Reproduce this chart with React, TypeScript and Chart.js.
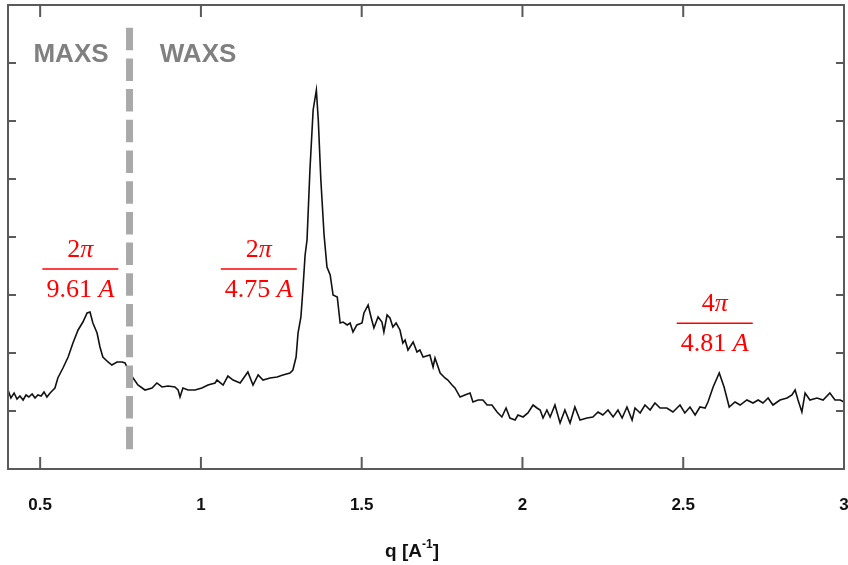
import React, { useEffect, useRef } from "react";
import { Chart, registerables } from "chart.js";

Chart.register(...registerables);

// scattering vector q [A^-1]
const qValues = [
  0.400, 0.409, 0.419, 0.428, 0.437, 0.447, 0.456, 0.465, 0.475, 0.484,
  0.493, 0.503, 0.512, 0.521, 0.531, 0.540, 0.546, 0.555, 0.571, 0.587,
  0.602, 0.618, 0.633, 0.646, 0.655, 0.664, 0.677, 0.686, 0.695, 0.711,
  0.723, 0.739, 0.755, 0.764, 0.779, 0.789, 0.804, 0.826, 0.848, 0.863,
  0.879, 0.898, 0.919, 0.929, 0.935, 0.944, 0.960, 0.982, 1.003, 1.022,
  1.044, 1.050, 1.069, 1.084, 1.100, 1.122, 1.146, 1.162, 1.178, 1.193,
  1.215, 1.237, 1.255, 1.277, 1.286, 1.296, 1.302, 1.311, 1.317, 1.324,
  1.330, 1.339, 1.349, 1.359, 1.365, 1.373, 1.383, 1.392, 1.402, 1.411,
  1.424, 1.433, 1.442, 1.455, 1.464, 1.473, 1.485, 1.501, 1.507, 1.520,
  1.529, 1.538, 1.551, 1.563, 1.569, 1.579, 1.588, 1.597, 1.607, 1.619,
  1.628, 1.635, 1.644, 1.660, 1.672, 1.681, 1.691, 1.712, 1.722, 1.728,
  1.744, 1.759, 1.768, 1.781, 1.790, 1.806, 1.821, 1.837, 1.846, 1.862,
  1.877, 1.890, 1.905, 1.921, 1.936, 1.949, 1.961, 1.977, 1.986, 2.002,
  2.017, 2.033, 2.045, 2.055, 2.064, 2.076, 2.086, 2.101, 2.117, 2.132,
  2.148, 2.163, 2.179, 2.201, 2.219, 2.235, 2.250, 2.266, 2.282, 2.297,
  2.310, 2.325, 2.341, 2.350, 2.366, 2.381, 2.397, 2.412, 2.428, 2.449,
  2.468, 2.490, 2.505, 2.521, 2.537, 2.552, 2.568, 2.577, 2.593, 2.612,
  2.627, 2.643, 2.661, 2.677, 2.698, 2.717, 2.733, 2.748, 2.764, 2.779,
  2.801, 2.823, 2.838, 2.848, 2.857, 2.869, 2.879, 2.894, 2.916, 2.935,
  2.956, 2.972, 2.988, 3.000,
];

// intensity (arbitrary units)
const intensity = [
  1.362, 1.224, 1.310, 1.207, 1.259, 1.190, 1.276, 1.241, 1.293, 1.224,
  1.276, 1.259, 1.328, 1.241, 1.310, 1.362, 1.397, 1.569, 1.741, 1.931,
  2.172, 2.397, 2.534, 2.690, 2.707, 2.517, 2.345, 2.103, 1.931, 1.845,
  1.793, 1.845, 1.845, 1.828, 1.655, 1.569, 1.448, 1.362, 1.397, 1.483,
  1.414, 1.431, 1.414, 1.362, 1.241, 1.397, 1.362, 1.362, 1.397, 1.448,
  1.483, 1.534, 1.448, 1.603, 1.534, 1.483, 1.672, 1.448, 1.621, 1.534,
  1.569, 1.586, 1.621, 1.655, 1.707, 1.931, 2.345, 2.621, 3.086, 3.690,
  3.948, 5.155, 6.190, 6.534, 6.017, 4.983, 4.034, 3.483, 3.345, 3.000,
  2.966, 2.517, 2.534, 2.483, 2.517, 2.362, 2.483, 2.517, 2.690, 2.828,
  2.621, 2.431, 2.621, 2.534, 2.362, 2.655, 2.603, 2.448, 2.517, 2.397,
  2.172, 2.224, 2.052, 2.190, 2.017, 2.052, 1.931, 1.966, 1.759, 1.914,
  1.655, 1.569, 1.534, 1.448, 1.397, 1.241, 1.276, 1.310, 1.155, 1.190,
  1.190, 1.103, 1.103, 0.983, 0.897, 1.052, 0.879, 0.845, 0.931, 0.897,
  0.966, 1.103, 1.052, 1.017, 0.879, 1.017, 0.897, 1.103, 0.793, 1.017,
  0.793, 1.069, 0.845, 0.879, 0.897, 0.983, 0.931, 1.017, 0.897, 1.017,
  0.879, 1.069, 0.845, 1.052, 0.966, 1.103, 1.017, 1.138, 1.052, 1.052,
  0.983, 1.103, 0.966, 1.069, 0.931, 1.069, 1.052, 1.155, 1.414, 1.655,
  1.414, 1.069, 1.155, 1.103, 1.190, 1.138, 1.190, 1.138, 1.224, 1.103,
  1.190, 1.224, 1.276, 1.362, 1.190, 0.983, 1.310, 1.190, 1.224, 1.190,
  1.310, 1.190, 1.190, 1.155,
];

const xTickValues = [0.5, 1, 1.5, 2, 2.5, 3];
const xTickLabels = ["0.5", "1", "1.5", "2", "2.5", "3"];
const yTickValues = [1, 2, 3, 4, 5, 6, 7];

const regionLabels = ["MAXS", "WAXS"];
const peakNumerators = [["2", "π"], ["2", "π"], ["4", "π"]];
const peakDenominators = [["9.61 ", "A"], ["4.75 ", "A"], ["4.81 ", "A"]];

// anchors (data coordinates) for annotations
const regionAnchors = [
  { q: 0.596, v: 7.14 },
  { q: 0.991, v: 7.14 },
];
const peakAnchors = [
  { q: 0.625, v: 3.448 },
  { q: 1.180, v: 3.448 },
  { q: 2.598, v: 2.512 },
];
const divider = { q: 0.778, top: 7.609, bottom: 0.328 };

const overlayPlugin = {
  id: "overlay",
  afterDatasetsDraw(chart: any) {
    const { ctx, chartArea: a, scales } = chart;
    const x = scales.x;
    const y = scales.y;
    ctx.save();

    // dashed divider
    const dx = x.getPixelForValue(divider.q);
    ctx.strokeStyle = "#a9a9a9";
    ctx.lineWidth = 7;
    ctx.setLineDash([22.5, 8.2]);
    ctx.beginPath();
    ctx.moveTo(dx, y.getPixelForValue(divider.top));
    ctx.lineTo(dx, y.getPixelForValue(divider.bottom));
    ctx.stroke();
    ctx.setLineDash([]);

    // frame
    ctx.strokeStyle = "#5a5a5a";
    ctx.lineWidth = 2;
    ctx.strokeRect(a.left, a.top, a.right - a.left, a.bottom - a.top);

    // ticks (inward)
    ctx.beginPath();
    xTickValues.forEach((t) => {
      const px = x.getPixelForValue(t);
      ctx.moveTo(px, a.bottom);
      ctx.lineTo(px, a.bottom - 12);
      ctx.moveTo(px, a.top);
      ctx.lineTo(px, a.top + 12);
    });
    yTickValues.forEach((t) => {
      const py = y.getPixelForValue(t);
      ctx.moveTo(a.left, py);
      ctx.lineTo(a.left + 8, py);
      ctx.moveTo(a.right, py);
      ctx.lineTo(a.right - 8, py);
    });
    ctx.stroke();

    // tick labels
    ctx.fillStyle = "#111";
    ctx.font = "bold 17px 'Liberation Sans', Arial, sans-serif";
    ctx.textAlign = "center";
    ctx.textBaseline = "middle";
    xTickValues.forEach((t, i) => {
      ctx.fillText(xTickLabels[i], x.getPixelForValue(t), a.bottom + 36);
    });

    // axis title q [A^-1]
    const cx = (a.left + a.right) / 2 - 14;
    const ty = a.bottom + 83;
    const main = "bold 19px 'Liberation Sans', Arial, sans-serif";
    const sup = "bold 12px 'Liberation Sans', Arial, sans-serif";
    ctx.font = main;
    const w1 = ctx.measureText("q [A").width;
    const w3 = ctx.measureText("]").width;
    ctx.font = sup;
    const w2 = ctx.measureText("-1").width;
    const total = w1 + w2 + w3;
    let sx = cx - total / 2;
    ctx.textAlign = "left";
    ctx.font = main;
    ctx.fillText("q [A", sx, ty);
    sx += w1;
    ctx.font = sup;
    ctx.fillText("-1", sx, ty - 7);
    sx += w2;
    ctx.font = main;
    ctx.fillText("]", sx, ty);

    // region labels
    ctx.fillStyle = "#808080";
    ctx.font = "bold 26px 'Liberation Sans', Arial, sans-serif";
    ctx.textAlign = "center";
    regionLabels.forEach((lbl, i) => {
      ctx.fillText(lbl, x.getPixelForValue(regionAnchors[i].q), y.getPixelForValue(regionAnchors[i].v));
    });

    // peak fractions
    const up = "26px 'Liberation Serif', 'Times New Roman', serif";
    const it = "italic 26px 'Liberation Serif', 'Times New Roman', serif";
    const drawMixed = (parts: string[], centerX: number, cy: number) => {
      ctx.font = up;
      const wa = ctx.measureText(parts[0]).width;
      ctx.font = it;
      const wb = ctx.measureText(parts[1]).width;
      const px = centerX - (wa + wb) / 2;
      ctx.textAlign = "left";
      ctx.font = up;
      ctx.fillText(parts[0], px, cy);
      ctx.font = it;
      ctx.fillText(parts[1], px + wa, cy);
    };
    ctx.fillStyle = "#ff0000";
    ctx.strokeStyle = "#ff0000";
    ctx.lineWidth = 1.5;
    peakAnchors.forEach((p, i) => {
      const px = x.getPixelForValue(p.q);
      const py = y.getPixelForValue(p.v);
      ctx.beginPath();
      ctx.moveTo(px - 38, py);
      ctx.lineTo(px + 38, py);
      ctx.stroke();
      ctx.textBaseline = "middle";
      drawMixed(peakNumerators[i], px, py - 19);
      drawMixed(peakDenominators[i], px, py + 21);
    });

    ctx.restore();
  },
};

export default function App() {
  const ref = useRef<HTMLCanvasElement | null>(null);

  useEffect(() => {
    if (!ref.current) return;
    const points = qValues.map((q, i) => ({ x: q, y: intensity[i] }));
    const chart = new Chart(ref.current, {
      type: "line",
      data: {
        datasets: [
          {
            data: points,
            borderColor: "#111111",
            borderWidth: 1.6,
            pointRadius: 0,
            tension: 0,
            fill: false,
          },
        ],
      },
      options: {
        responsive: false,
        animation: false,
        layout: { padding: { left: 8, right: 4, top: 5, bottom: 96 } },
        scales: {
          x: { type: "linear", min: 0.4, max: 3, display: false },
          y: { type: "linear", min: 0, max: 8, display: false },
        },
        plugins: {
          legend: { display: false },
          tooltip: { enabled: false },
        },
      },
      plugins: [overlayPlugin],
    });
    return () => chart.destroy();
  }, []);

  return (
    <div style={{ position: "fixed", left: 0, top: 0, width: 848, height: 565, background: "#fff" }}>
      <canvas ref={ref} width={848} height={565} />
    </div>
  );
}
